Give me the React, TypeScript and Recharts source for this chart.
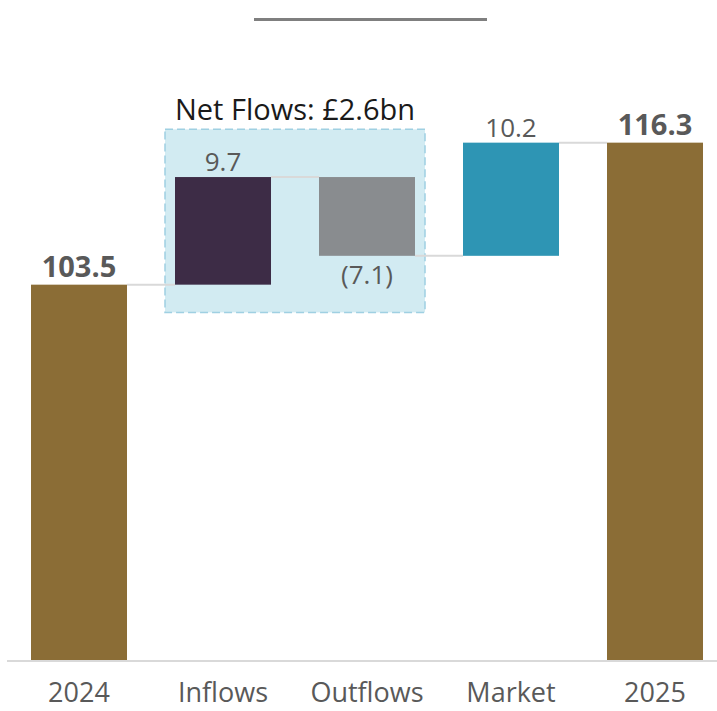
import React from 'react';
import { BarChart, Bar, XAxis, YAxis, ReferenceArea, LabelList } from 'recharts';

// waterfall: totals start from zero, the rest move the running level
const categories = ['2024', 'Inflows', 'Outflows', 'Market', '2025'];
const steps = [103.5, 9.7, -7.1, 10.2, 116.3];
const isTotal = [true, false, false, false, true];
const barColors = ['#8B6D36', '#3D2C46', '#898C8F', '#2E95B4', '#8B6D36'];

const netFlowsText = 'Net Flows: £2.6bn';
const netFlowsFrom = 'Inflows';
const netFlowsTo = 'Outflows';
const netFlowsLow = 101;
const netFlowsHigh = 117.5;

const font = "'Open Sans', sans-serif";
const connector = '#D9D9D9';

let level = 0;
const data = categories.map((name, i) => {
  let low: number;
  let high: number;
  if (isTotal[i]) {
    low = 0;
    high = steps[i];
    level = steps[i];
  } else {
    const start = level;
    level = start + steps[i];
    low = Math.min(start, level);
    high = Math.max(start, level);
  }
  return { name, range: [low, high], step: steps[i], total: isTotal[i] };
});

const fmt = (i: number) => {
  const v = steps[i];
  return v < 0 ? `(${Math.abs(v).toFixed(1)})` : v.toFixed(1);
};

const WaterfallBar = (props: any) => {
  const { x, y, width, height, index } = props;
  const top = Math.min(y, y + height);
  const bottom = Math.max(y, y + height);
  const endY = steps[index] < 0 && !isTotal[index] ? bottom : top;
  return (
    <g>
      <rect x={x} y={top} width={width} height={bottom - top} fill={barColors[index]} />
      {index < categories.length - 1 && (
        <line x1={x + width} x2={x + width * 1.5} y1={endY} y2={endY} stroke={connector} strokeWidth={2} />
      )}
    </g>
  );
};

const ValueLabel = (props: any) => {
  const vb = props.viewBox ?? props;
  const x = vb.x ?? props.x;
  const y = vb.y ?? props.y;
  const width = vb.width ?? props.width;
  const height = vb.height ?? props.height;
  const index = props.index;
  const top = Math.min(y, y + height);
  const bottom = Math.max(y, y + height);
  const cx = x + width / 2;
  if (isTotal[index]) {
    return (
      <text x={cx} y={top - 8} textAnchor="middle" fill="#595959" fontSize={29} fontWeight={700} fontFamily={font}>
        {fmt(index)}
      </text>
    );
  }
  if (steps[index] < 0) {
    return (
      <text x={cx} y={bottom + 28} textAnchor="middle" fill="#595959" fontSize={26} fontFamily={font}>
        {fmt(index)}
      </text>
    );
  }
  return (
    <text x={cx} y={top - 6} textAnchor="middle" fill="#595959" fontSize={26} fontFamily={font}>
      {fmt(index)}
    </text>
  );
};

const NetFlowsBox = (props: any) => {
  const { x, y, width, height } = props;
  return (
    <rect
      x={x + 14}
      y={y}
      width={width - 28}
      height={height}
      fill="#D2EBF2"
      stroke="#9FD0E2"
      strokeWidth={1.5}
      strokeDasharray="8 4"
    />
  );
};

export default function App() {
  return (
    <div style={{ position: 'absolute', left: 0, top: 0, width: 717, height: 711, overflow: 'hidden', background: '#fff' }}>
      <div style={{ position: 'absolute', left: 254, top: 18, width: 233, height: 3, background: '#7F7F7F' }} />
      <BarChart
        width={727}
        height={711}
        data={data}
        margin={{ top: 101.6, right: 0, bottom: 0, left: 7 }}
        barCategoryGap="16.67%"
      >
        <ReferenceArea
          x1={netFlowsFrom}
          x2={netFlowsTo}
          y1={netFlowsLow}
          y2={netFlowsHigh}
          shape={NetFlowsBox}
          label={{ value: netFlowsText, position: 'top', offset: 9, fill: '#1A1A1A', fontSize: 29, fontFamily: font }}
        />
        <XAxis
          dataKey="name"
          height={50}
          tickLine={false}
          tickMargin={16}
          axisLine={{ stroke: '#D9D9D9', strokeWidth: 2 }}
          tick={{ fill: '#595959', fontSize: 27, fontFamily: font }}
          interval={0}
        />
        <YAxis hide domain={[69.58, 120]} allowDataOverflow />
        <Bar dataKey="range" shape={WaterfallBar} isAnimationActive={false}>
          <LabelList dataKey="range" content={ValueLabel} />
        </Bar>
      </BarChart>
    </div>
  );
}
